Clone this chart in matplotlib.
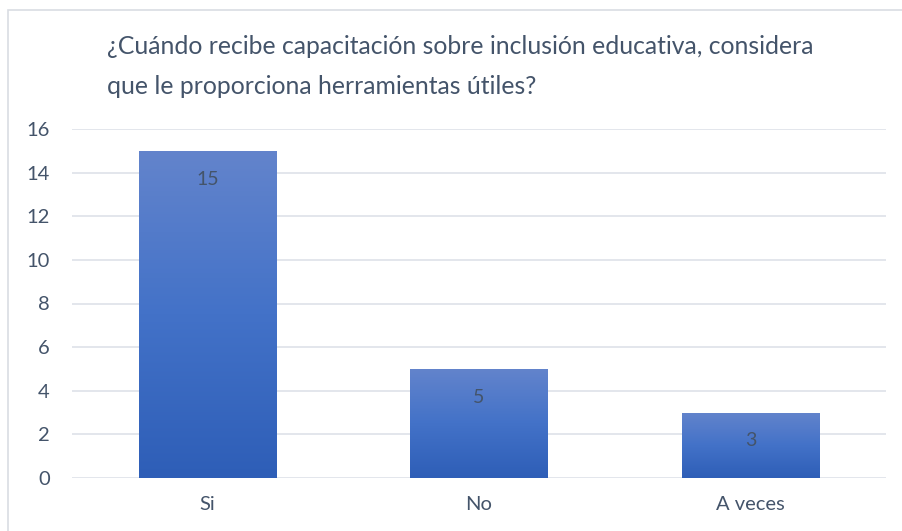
import numpy as np
import matplotlib.pyplot as plt
from matplotlib.colors import LinearSegmentedColormap
from matplotlib.patches import Rectangle

categories = ["Si", "No", "A veces"]
values = [15, 5, 3]
yticks = [0, 2, 4, 6, 8, 10, 12, 14, 16]
title = ("¿Cuándo recibe capacitación sobre inclusión educativa, considera\n"
         "que le proporciona herramientas útiles?")

text_color = "#44546A"
grid_color = "#E1E4EA"
cmap = LinearSegmentedColormap.from_list("bar", ["#2E5EB7", "#4372C8", "#6384CC"])

plt.rcParams["font.family"] = ["Lato", "DejaVu Sans"]

W, H = 902, 531
fig = plt.figure(figsize=(W / 100, H / 100), dpi=100)
ax = fig.add_axes([72 / W, 1 - 478 / H, (886 - 72) / W, (478 - 129) / H])

# chart border (cut off at right and bottom)
fig.patches.append(Rectangle((8 / W, -0.05), 1.0, 1 - 10 / H + 0.05,
                             transform=fig.transFigure, fill=False,
                             edgecolor="#D9DDE3", linewidth=1.2))

x = np.arange(len(categories))
bars = ax.bar(x, values, width=0.505, color="none", edgecolor="none", zorder=2)

grad = np.linspace(0, 1, 256).reshape(-1, 1)
for b in bars:
    x0, y0 = b.get_x(), b.get_y()
    w, h = b.get_width(), b.get_height()
    im = ax.imshow(grad, cmap=cmap, aspect="auto", origin="lower",
                   extent=[x0, x0 + w, y0, y0 + h], zorder=2)
    im.set_clip_path(b)

for xi, v in zip(x, values):
    ax.text(xi, v - 1.3, str(v), ha="center", va="center",
            fontsize=14, color=text_color, zorder=3)

ax.set_xlim(-0.5, len(categories) - 0.5)
ax.set_ylim(0, 16)
ax.set_yticks(yticks)
ax.set_xticks(x)
ax.set_xticklabels(categories)
ax.yaxis.grid(True, color=grid_color, linewidth=1.3)
ax.set_axisbelow(True)
for s in ax.spines.values():
    s.set_visible(False)
ax.tick_params(length=0, labelsize=14.5, colors=text_color)
ax.tick_params(axis="x", pad=13)
ax.tick_params(axis="y", pad=16)
for lbl in ax.get_yticklabels():
    lbl.set_horizontalalignment("right")

fig.text(107 / W, 1 - 35 / H, title, ha="left", va="top",
         fontsize=17.8, color=text_color, linespacing=1.9)

fig.savefig("out.png", dpi=100)
